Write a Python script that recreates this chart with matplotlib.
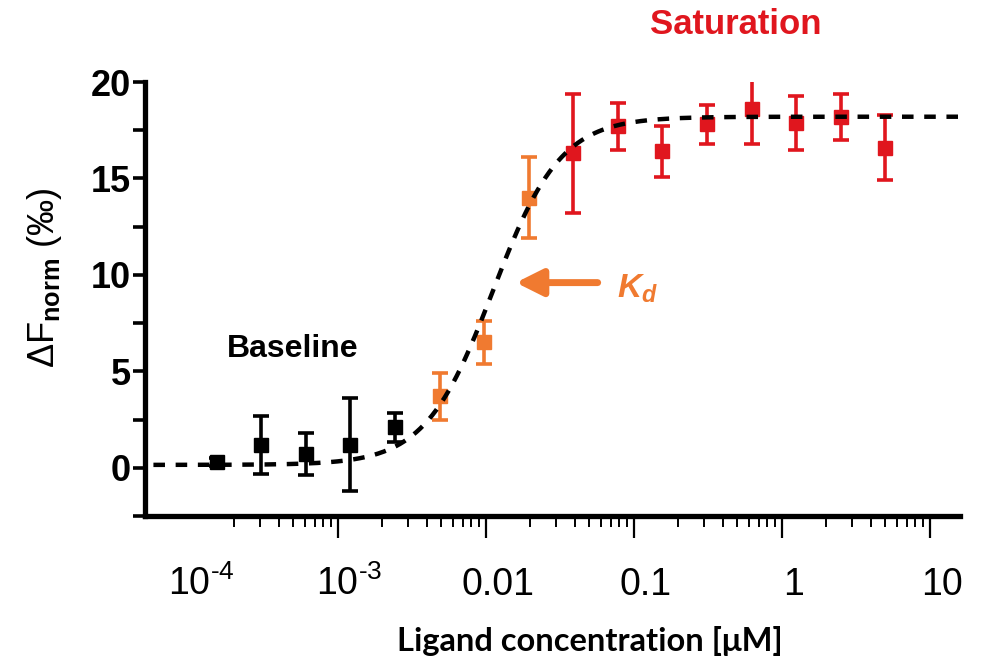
import numpy as np
import matplotlib
matplotlib.use("Agg")
import matplotlib.pyplot as plt
from matplotlib.transforms import ScaledTranslation

plt.rcParams['font.family'] = ['Liberation Sans', 'DejaVu Sans']
plt.rcParams['mathtext.fontset'] = 'custom'
plt.rcParams['mathtext.rm'] = 'Liberation Sans'
plt.rcParams['mathtext.bf'] = 'Liberation Sans:bold'
plt.rcParams['mathtext.it'] = 'Liberation Sans:italic:bold'

# 2-fold dilution series (uM) and normalised response (per mille)
conc_base = [1.526e-4, 3.052e-4, 6.104e-4, 1.221e-3, 2.441e-3]
resp_base = [0.3, 1.2, 0.7, 1.2, 2.1]
err_base = [0.2, 1.5, 1.1, 2.4, 0.75]

conc_mid = [4.883e-3, 9.766e-3, 1.953e-2]
resp_mid = [3.7, 6.5, 14.0]
err_mid = [1.2, 1.1, 2.1]

conc_sat = [3.906e-2, 7.813e-2, 0.1563, 0.3125, 0.625, 1.25, 2.5, 5.0]
resp_sat = [16.3, 17.7, 16.4, 17.8, 18.6, 17.9, 18.2, 16.6]
err_sat = [3.1, 1.2, 1.3, 1.0, 1.8, 1.4, 1.2, 1.7]

# fitted dose-response parameters
fit_bottom = 0.15
fit_top = 18.2
fit_k = 0.0112
fit_n = 1.9

x_major = [1e-4, 1e-3, 1e-2, 0.1, 1, 10]
x_labels = [r'$10^{\text{-4}}$', r'$10^{\text{-3}}$', '0.01', '0.1', '1', '10']
y_major = [0, 5, 10, 15, 20]

black = '#000000'
orange = '#F07A30'
red = '#E0161E'

fig = plt.figure(figsize=(9.87, 6.65), dpi=100)
ax = fig.add_axes([145 / 987, 1 - 516 / 665, (960 - 145) / 987, (516 - 82) / 665])

# fit curve
xs = np.logspace(np.log10(5.7e-5), np.log10(16), 400)
ys = fit_bottom + (fit_top - fit_bottom) * xs ** fit_n / (fit_k ** fit_n + xs ** fit_n)
ax.plot(xs, ys, color='black', lw=3.2, linestyle=(0, (2.6, 2.4)), zorder=5)

for c, r, e, col in [(conc_base, resp_base, err_base, black),
                     (conc_mid, resp_mid, err_mid, orange),
                     (conc_sat, resp_sat, err_sat, red)]:
    ax.errorbar(c, r, yerr=e, fmt='s', color=col, ms=10, elinewidth=2.6,
                capsize=5.8, capthick=2.6, zorder=3)

ax.set_xscale('log')
ax.set_xlim(5e-5, 16)
ax.set_ylim(-2.5, 20)

# axes styling
for s in ['top', 'right']:
    ax.spines[s].set_visible(False)
for s in ['left', 'bottom']:
    ax.spines[s].set_linewidth(3.8)

ax.set_xticks(x_major)
ax.set_xticklabels(x_labels)
minor = [m * 10.0 ** d for d in range(-4, 1) for m in range(2, 10)]
ax.set_xticks(minor, minor=True)
ax.xaxis.get_major_ticks()[0].tick1line.set_visible(False)
ax.tick_params(axis='x', which='major', length=16, width=1.6, labelsize=27, pad=41)
ax.tick_params(axis='x', which='minor', length=8, width=1.4)
off = ScaledTranslation(12 / 100, 0, fig.dpi_scale_trans)
for lab in ax.get_xticklabels():
    lab.set_va('baseline')
    lab.set_transform(lab.get_transform() + off)

ax.set_yticks(y_major)
ax.set_yticks([-2.5, 2.5, 7.5, 12.5, 17.5], minor=True)
ax.tick_params(axis='y', which='both', length=9, width=2.6, labelsize=26, pad=1)
for lab in ax.get_yticklabels():
    lab.set_fontweight('bold')

# annotations
fig.text(736 / 987, 1 - 24 / 665, 'Saturation', color=red, fontsize=25,
         fontweight='bold', ha='center', va='center')
fig.text(293 / 987, 1 - 349 / 665, 'Baseline', color='black', fontsize=23,
         fontweight='bold', ha='center', va='center')
ax.annotate('', xy=(0.0160, 9.6), xytext=(0.0571, 9.6),
            arrowprops=dict(arrowstyle='-|>', color=orange, lw=5,
                            mutation_scale=40, shrinkA=0, shrinkB=0))
fig.text(637 / 987, 1 - 289 / 665, r'$K_d$', color=orange, fontsize=24,
         ha='center', va='center')

fig.text(45 / 987, 1 - 278 / 665, r'$\Delta$F$_{\mathbf{norm}}$ (‰)',
         rotation=90, fontsize=26, ha='center', va='center')
fig.text(590 / 987, 1 - 641 / 665, 'Ligand concentration [μM]',
         family=['Lato', 'DejaVu Sans'], fontweight='bold', fontsize=23.5,
         ha='center', va='center')

fig.savefig('out.png', dpi=100)
